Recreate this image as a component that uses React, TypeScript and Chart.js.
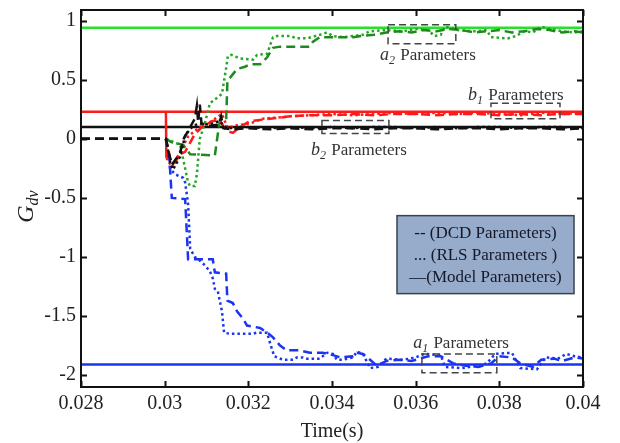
import React, { useEffect, useRef } from "react";
import { Chart, registerables } from "chart.js";

Chart.register(...registerables);

// Axis ticks
const xTickValues = [0.028, 0.03, 0.032, 0.034, 0.036, 0.038, 0.04];
const xTickLabels = ["0.028", "0.03", "0.032", "0.034", "0.036", "0.038", "0.04"];
const yTickValues = [-2, -1.5, -1, -0.5, 0, 0.5, 1];
const yTickLabels = ["-2", "-1.5", "-1", "-0.5", "0", "0.5", "1"];

// Model (true) parameter values
const modelA2 = 0.94;
const modelB1 = 0.23;
const modelB2 = 0.1;
const modelA1 = -1.91;
const modelSpan = [0.028, 0.04];

// Estimated parameters, [time (s), value]
const a1Dcd: [number, number][] = [
  [0.028, 0], [0.03003, 0], [0.03013, -0.26], [0.03017, -0.5], [0.03049, -0.51], [0.03056, -1.02],
  [0.03115, -1.02], [0.0312, -1.13], [0.03147, -1.14], [0.0315, -1.37], [0.03163, -1.39],
  [0.03173, -1.46], [0.03187, -1.52], [0.03197, -1.58], [0.03228, -1.6], [0.03245, -1.64],
  [0.03259, -1.68], [0.03276, -1.75], [0.03292, -1.79], [0.03323, -1.79], [0.03347, -1.81],
  [0.03378, -1.81], [0.03402, -1.83], [0.0342, -1.85], [0.0345, -1.84], [0.0346, -1.81],
  [0.03474, -1.82], [0.03491, -1.87], [0.03507, -1.92], [0.0353, -1.88], [0.0356, -1.87],
  [0.0359, -1.88], [0.0361, -1.86], [0.0363, -1.84], [0.0366, -1.84], [0.0369, -1.9],
  [0.0372, -1.92], [0.0375, -1.93], [0.0378, -1.9], [0.038, -1.84], [0.0383, -1.85],
  [0.0385, -1.9], [0.0388, -1.93], [0.039, -1.87], [0.0393, -1.86], [0.0395, -1.88],
  [0.0398, -1.85], [0.04, -1.86],
];
const a1Rls: [number, number][] = [
  [0.03003, 0], [0.03013, -0.2], [0.03017, -0.27], [0.03025, -0.3], [0.03044, -0.33],
  [0.03049, -0.37], [0.03056, -0.55], [0.03061, -0.93], [0.03072, -1.0], [0.03084, -1.03],
  [0.03096, -1.07], [0.03108, -1.12], [0.03115, -1.18], [0.0312, -1.27], [0.03127, -1.29],
  [0.03137, -1.46], [0.03142, -1.64], [0.03156, -1.65], [0.0321, -1.65], [0.0322, -1.64],
  [0.03245, -1.64], [0.03252, -1.73], [0.03262, -1.84], [0.03283, -1.87], [0.03307, -1.87],
  [0.03316, -1.85], [0.03331, -1.85], [0.0334, -1.86], [0.03371, -1.86], [0.03388, -1.81],
  [0.03402, -1.82], [0.03412, -1.87], [0.03426, -1.87], [0.0345, -1.85], [0.0346, -1.8],
  [0.03474, -1.82], [0.03491, -1.94], [0.0351, -1.93], [0.0353, -1.86], [0.0357, -1.87],
  [0.036, -1.85], [0.0362, -1.82], [0.0366, -1.83], [0.0367, -1.93], [0.0371, -1.94],
  [0.0375, -1.92], [0.0377, -1.9], [0.0379, -1.82], [0.0383, -1.81], [0.0385, -1.94],
  [0.0389, -1.95], [0.0391, -1.85], [0.0394, -1.86], [0.0396, -1.82], [0.0398, -1.84],
  [0.04, -1.85],
];
const a2Dcd: [number, number][] = [
  [0.028, 0], [0.03003, 0], [0.03017, -0.03], [0.03044, -0.05], [0.03061, -0.13], [0.0312, -0.14],
  [0.03127, 0.04], [0.03132, 0.155], [0.03147, 0.16], [0.0315, 0.49], [0.03173, 0.59],
  [0.03192, 0.61], [0.03204, 0.63], [0.03228, 0.63], [0.03245, 0.69], [0.03259, 0.77],
  [0.03276, 0.78], [0.03292, 0.78], [0.03347, 0.78], [0.03354, 0.82], [0.03371, 0.86],
  [0.0345, 0.86], [0.0347, 0.87], [0.035, 0.88], [0.0353, 0.9], [0.0356, 0.91], [0.0359, 0.9],
  [0.0362, 0.92], [0.0365, 0.91], [0.0368, 0.93], [0.0371, 0.92], [0.0374, 0.9], [0.0377, 0.91],
  [0.038, 0.92], [0.0383, 0.9], [0.0386, 0.91], [0.0389, 0.93], [0.0392, 0.92], [0.0395, 0.9],
  [0.0398, 0.91], [0.04, 0.9],
];
const a2Rls: [number, number][] = [
  [0.03003, 0], [0.03037, -0.05], [0.03056, -0.37], [0.03061, -0.4], [0.03072, -0.4],
  [0.03077, -0.3], [0.03084, 0.0], [0.03096, 0.13], [0.03108, 0.3], [0.03137, 0.38],
  [0.03147, 0.6], [0.03151, 0.7], [0.0316, 0.71], [0.0318, 0.68], [0.03211, 0.67],
  [0.03221, 0.71], [0.03245, 0.72], [0.03259, 0.86], [0.03268, 0.87], [0.033, 0.87],
  [0.03316, 0.85], [0.0334, 0.85], [0.03371, 0.88], [0.03388, 0.9], [0.03402, 0.87],
  [0.03426, 0.86], [0.0345, 0.87], [0.03474, 0.88], [0.0349, 0.91], [0.0353, 0.92],
  [0.0357, 0.91], [0.036, 0.93], [0.0363, 0.92], [0.03645, 0.87], [0.0366, 0.88],
  [0.0367, 0.95], [0.037, 0.92], [0.0374, 0.91], [0.0377, 0.92], [0.0378, 0.86],
  [0.0382, 0.85], [0.0384, 0.87], [0.0386, 0.91], [0.0388, 0.9], [0.039, 0.95],
  [0.0392, 0.93], [0.0395, 0.91], [0.0398, 0.9], [0.04, 0.91],
];
const b1Dcd: [number, number][] = [
  [0.028, 0], [0.03003, 0], [0.03013, -0.16], [0.03017, -0.22], [0.03025, -0.2], [0.03037, -0.13],
  [0.03049, -0.11], [0.03072, 0.04], [0.03092, 0.11], [0.03115, 0.15], [0.03132, 0.155],
  [0.03147, 0.07], [0.03163, 0.05], [0.0318, 0.1], [0.03204, 0.15], [0.03252, 0.17],
  [0.033, 0.19], [0.0335, 0.2], [0.034, 0.2], [0.0345, 0.21], [0.035, 0.2], [0.0355, 0.21],
  [0.036, 0.21], [0.0365, 0.2], [0.037, 0.21], [0.0375, 0.21], [0.038, 0.2], [0.0385, 0.21],
  [0.039, 0.2], [0.0395, 0.21], [0.04, 0.21],
];
// RLS b1 starts from the model value and jumps down at the step
const b1RlsStart: [number, number][] = [[0.03003, 0.23], [0.03004, -0.16]];
const b1Rls: [number, number][] = [
  [0.03004, -0.16], [0.03017, -0.24], [0.03037, -0.11], [0.03056, 0.02],
  [0.03084, 0.1], [0.03108, 0.14], [0.03137, 0.21], [0.03151, 0.09], [0.03166, 0.11],
  [0.03204, 0.13], [0.03235, 0.17], [0.033, 0.19], [0.0335, 0.2], [0.034, 0.21], [0.0345, 0.2],
  [0.035, 0.21], [0.0355, 0.22], [0.036, 0.21], [0.0365, 0.22], [0.037, 0.21], [0.0375, 0.22],
  [0.038, 0.21], [0.0385, 0.2], [0.039, 0.22], [0.0395, 0.21], [0.04, 0.22],
];
const b2Dcd: [number, number][] = [
  [0.028, 0], [0.03003, 0], [0.0301, -0.12], [0.03017, -0.22], [0.03037, -0.12], [0.03044, -0.01],
  [0.03061, 0.1], [0.03072, 0.17], [0.03077, 0.28], [0.0308, 0.14], [0.03084, 0.29],
  [0.03088, 0.13], [0.03108, 0.11], [0.0313, 0.12], [0.03135, 0.19], [0.0314, 0.09],
  [0.03163, 0.08], [0.032, 0.09], [0.0325, 0.08], [0.033, 0.09], [0.0335, 0.08], [0.034, 0.09],
  [0.0345, 0.09], [0.035, 0.08], [0.0355, 0.09], [0.036, 0.09], [0.0365, 0.08], [0.037, 0.09],
  [0.0375, 0.09], [0.038, 0.08], [0.0385, 0.09], [0.039, 0.09], [0.0395, 0.08], [0.04, 0.09],
];
const b2Rls: [number, number][] = [
  [0.03003, 0], [0.03013, -0.2], [0.0302, -0.26], [0.03037, -0.15], [0.03049, 0.03],
  [0.03068, 0.11], [0.03084, 0.13], [0.03108, 0.12], [0.0313, 0.15], [0.0315, 0.09],
  [0.032, 0.1], [0.0325, 0.09], [0.033, 0.1], [0.0335, 0.09], [0.034, 0.1], [0.0345, 0.09],
  [0.035, 0.1], [0.0355, 0.1], [0.036, 0.09], [0.0365, 0.1], [0.037, 0.09], [0.0375, 0.1],
  [0.038, 0.1], [0.0385, 0.09], [0.039, 0.1], [0.0395, 0.1], [0.04, 0.09],
];

// Dashed call-out frames and their captions (data units)
const callouts = [
  { sym: "a", sub: "2", box: [0.03534, 0.03696, 0.965, 0.805], text: [0.03515, 0.67] },
  { sym: "b", sub: "1", box: [0.0378, 0.03945, 0.3, 0.17], text: [0.03725, 0.33] },
  { sym: "b", sub: "2", box: [0.03376, 0.03536, 0.155, 0.046], text: [0.0335, -0.14] },
  { sym: "a", sub: "1", box: [0.03615, 0.03794, -1.82, -1.98], text: [0.03594, -1.77] },
];

const legendLines = ["-- (DCD Parameters)", "... (RLS Parameters )", "\u2014(Model Parameters)"];

const SERIF = "'Liberation Serif', 'Times New Roman', serif";

const toXY = (pts: [number, number][]) => pts.map(([x, y]) => ({ x, y }));
const flat = (v: number) => modelSpan.map((x) => ({ x, y: v }));

const DASH = [9, 5];
const DOT = [2.5, 3];

const frameAndNotes = {
  id: "frameAndNotes",
  afterDraw(chart: any) {
    const { ctx, chartArea: a, scales } = chart;
    const xs = scales.x;
    const ys = scales.y;
    ctx.save();
    // frame
    ctx.strokeStyle = "#111";
    ctx.lineWidth = 2;
    ctx.setLineDash([]);
    ctx.strokeRect(a.left, a.top, a.right - a.left, a.bottom - a.top);
    // inward ticks on all four sides
    const tl = 6;
    ctx.beginPath();
    xTickValues.forEach((v) => {
      const px = Math.round(xs.getPixelForValue(v)) + 0.5;
      ctx.moveTo(px, a.bottom);
      ctx.lineTo(px, a.bottom - tl);
      ctx.moveTo(px, a.top);
      ctx.lineTo(px, a.top + tl);
    });
    yTickValues.forEach((v) => {
      const py = Math.round(ys.getPixelForValue(v)) + 0.5;
      ctx.moveTo(a.left, py);
      ctx.lineTo(a.left + tl, py);
      ctx.moveTo(a.right, py);
      ctx.lineTo(a.right - tl, py);
    });
    ctx.stroke();

    // call-out frames and captions
    callouts.forEach((c) => {
      const [x0, x1, y0, y1] = c.box;
      const l = xs.getPixelForValue(x0);
      const r = xs.getPixelForValue(x1);
      const t = ys.getPixelForValue(y0);
      const b = ys.getPixelForValue(y1);
      ctx.strokeStyle = "#444";
      ctx.lineWidth = 1.5;
      ctx.setLineDash([7, 4]);
      ctx.strokeRect(l, t, r - l, b - t);
      ctx.setLineDash([]);
      const tx = xs.getPixelForValue(c.text[0]);
      const ty = ys.getPixelForValue(c.text[1]);
      ctx.fillStyle = "#333";
      ctx.textBaseline = "alphabetic";
      ctx.textAlign = "left";
      ctx.font = `italic 18px ${SERIF}`;
      ctx.fillText(c.sym, tx, ty);
      let w = ctx.measureText(c.sym).width;
      ctx.font = `italic 12px ${SERIF}`;
      ctx.fillText(c.sub, tx + w, ty + 4);
      w += ctx.measureText(c.sub).width;
      ctx.font = `17px ${SERIF}`;
      ctx.fillText(" Parameters", tx + w + 1, ty);
    });

    // legend note box
    const bx = a.right - 9 - 177;
    const by = ys.getPixelForValue(-0.65);
    const bw = 177;
    const bh = 78;
    ctx.fillStyle = "#97abca";
    ctx.fillRect(bx, by, bw, bh);
    ctx.strokeStyle = "#3a4150";
    ctx.lineWidth = 1.5;
    ctx.strokeRect(bx, by, bw, bh);
    ctx.fillStyle = "#15182a";
    ctx.font = `17px ${SERIF}`;
    ctx.textAlign = "center";
    ctx.textBaseline = "middle";
    legendLines.forEach((s, i) => {
      ctx.fillText(s, bx + bw / 2, by + 18 + i * 22);
    });

    // y-axis title G_dv
    ctx.translate(33, (a.top + a.bottom) / 2 + 8);
    ctx.rotate(-Math.PI / 2);
    ctx.fillStyle = "#222";
    ctx.textAlign = "left";
    ctx.textBaseline = "alphabetic";
    ctx.font = `italic 24px ${SERIF}`;
    const gw = ctx.measureText("G").width;
    ctx.font = `italic 16px ${SERIF}`;
    const sw = ctx.measureText("dv").width;
    const start = -(gw + sw) / 2;
    ctx.font = `italic 24px ${SERIF}`;
    ctx.fillText("G", start, 0);
    ctx.font = `italic 16px ${SERIF}`;
    ctx.fillText("dv", start + gw, 5);
    ctx.restore();
  },
};

export default function App() {
  const ref = useRef<HTMLCanvasElement | null>(null);

  useEffect(() => {
    if (!ref.current) return;
    const est = (data: [number, number][], color: string, dash: number[], order: number) => ({
      data: toXY(data),
      borderColor: color,
      borderWidth: 2.5,
      borderDash: dash,
      pointRadius: 0,
      tension: 0,
      fill: false,
      order,
    });
    const model = (v: number, color: string, order: number) => ({
      data: flat(v),
      borderColor: color,
      borderWidth: 2.5,
      pointRadius: 0,
      fill: false,
      order,
    });
    const chart = new Chart(ref.current, {
      type: "line",
      data: {
        datasets: [
          model(modelA2, "#27e02a", 20),
          model(modelB1, "#ff1a1a", 21),
          model(modelB2, "#111111", 22),
          model(modelA1, "#1a34f2", 23),
          est(a1Rls, "#1a34f2", DOT, 12),
          est(a1Dcd, "#1a34f2", DASH, 11),
          est(a2Rls, "#26a626", DOT, 10),
          est(a2Dcd, "#1e8a1e", DASH, 9),
          est(b1RlsStart, "#ff1a1a", [], 8),
          est(b1Rls, "#ff1a1a", DOT, 8),
          est(b1Dcd, "#ff1a1a", DASH, 7),
          est(b2Rls, "#111111", DOT, 6),
          est(b2Dcd, "#111111", DASH, 5),
        ],
      },
      options: {
        animation: false,
        responsive: true,
        maintainAspectRatio: false,
        layout: { padding: { top: 5, right: 37, left: 0, bottom: 0 } },
        plugins: { legend: { display: false }, tooltip: { enabled: false } },
        scales: {
          x: {
            type: "linear",
            min: 0.028,
            max: 0.04,
            grid: { display: false, drawTicks: false },
            border: { display: false },
            afterBuildTicks: (s: any) => {
              s.ticks = xTickValues.map((value) => ({ value }));
            },
            afterFit: (s: any) => {
              s.height = 56;
            },
            ticks: {
              padding: 5,
              color: "#222",
              maxRotation: 0,
              autoSkip: false,
              font: { family: SERIF, size: 20 },
              callback: (_v: any, i: number) => xTickLabels[i],
            },
            title: {
              display: true,
              text: "Time(s)",
              color: "#222",
              font: { family: SERIF, size: 20, lineHeight: 1 },
              padding: { top: 0, bottom: 1 },
            },
          },
          y: {
            type: "linear",
            min: -2.1,
            max: 1.09,
            grid: { display: false, drawTicks: false },
            border: { display: false },
            afterBuildTicks: (s: any) => {
              s.ticks = yTickValues.map((value) => ({ value }));
            },
            afterFit: (s: any) => {
              s.width = 81;
            },
            ticks: {
              padding: 5,
              color: "#222",
              autoSkip: false,
              font: { family: SERIF, size: 20, lineHeight: 0.5 },
              callback: (_v: any, i: number) => yTickLabels[i],
            },
          },
        },
      },
      plugins: [frameAndNotes],
    });
    return () => chart.destroy();
  }, []);

  return (
    <div style={{ position: "fixed", left: 0, top: 0, width: 620, height: 443, background: "#fff" }}>
      <canvas ref={ref} />
    </div>
  );
}
